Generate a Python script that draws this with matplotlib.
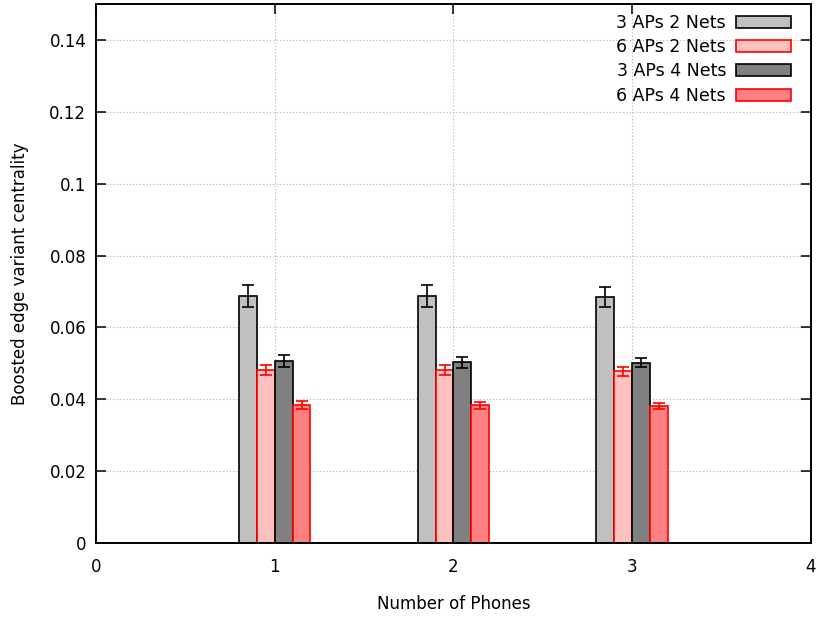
import matplotlib
matplotlib.use("Agg")
import matplotlib.pyplot as plt
import numpy as np

# Data
phones = [1, 2, 3]
series_labels = ["3 APs 2 Nets", "6 APs 2 Nets", "3 APs 4 Nets", "6 APs 4 Nets"]
ap3_net2 = [0.0688, 0.0688, 0.0685]
ap3_net2_err = [0.0030, 0.0030, 0.0027]
ap6_net2 = [0.0481, 0.0481, 0.0478]
ap6_net2_err = [0.0014, 0.0014, 0.0013]
ap3_net4 = [0.0506, 0.0503, 0.0502]
ap3_net4_err = [0.0017, 0.0015, 0.0013]
ap6_net4 = [0.0384, 0.0383, 0.0381]
ap6_net4_err = [0.0010, 0.0010, 0.0008]
y_ticks = [0, 0.02, 0.04, 0.06, 0.08, 0.1, 0.12, 0.14]
y_tick_labels = ["0", "0.02", "0.04", "0.06", "0.08", "0.1", "0.12", "0.14"]
x_ticks = [0, 1, 2, 3, 4]

values = [ap3_net2, ap6_net2, ap3_net4, ap6_net4]
errors = [ap3_net2_err, ap6_net2_err, ap3_net4_err, ap6_net4_err]
fills = ["#c0c0c0", "#ffc0c0", "#808080", "#ff8080"]
edges = ["black", "red", "black", "red"]

plt.rcParams["font.family"] = ["DejaVu Sans"]
plt.rcParams["font.size"] = 12

fig = plt.figure(figsize=(8.2, 6.19), dpi=100)
ax = fig.add_axes([96 / 820, 1 - 543 / 619, (811 - 96) / 820, (543 - 4) / 619])

width = 0.1
offsets = [-1.5 * width, -0.5 * width, 0.5 * width, 1.5 * width]
x = np.array(phones, dtype=float)
for vals, errs, fc, ec, lab, off in zip(values, errors, fills, edges, series_labels, offsets):
    ax.bar(x + off, vals, width=width, color=fc, edgecolor=ec, linewidth=1.2,
           label=lab, zorder=2)
    ax.errorbar(x + off, vals, yerr=errs, fmt="none", ecolor=ec, elinewidth=1.2,
                capsize=4, capthick=1.2, zorder=3)

ax.set_xlim(0, 4)
ax.set_ylim(0, 0.15)
ax.set_xticks(x_ticks)
ax.set_xticklabels([str(t) for t in x_ticks])
ax.set_yticks(y_ticks)
ax.set_yticklabels(y_tick_labels)

ax.grid(True, linestyle=(0, (1, 2)), color="#b0b0b0", linewidth=0.8)
ax.set_axisbelow(True)

ax.tick_params(direction="in", length=7, width=1.1, top=True, right=True,
               labelsize=12)
ax.tick_params(axis="y", pad=7)
ax.tick_params(axis="x", pad=11)
for sp in ax.spines.values():
    sp.set_linewidth(1.4)

ax.set_xlabel("Number of Phones", fontsize=12, ha="center", va="center")
ax.set_ylabel("Boosted edge variant centrality", fontsize=12, ha="center", va="center")
ax.xaxis.set_label_coords(0.5, (543 - 604) / 539)
ax.yaxis.set_label_coords((20 - 96) / 715, 0.5)

leg = ax.legend(loc="upper right", bbox_to_anchor=(0.982, 0.9944),
                frameon=False, markerfirst=False,
                fontsize=12.5, handlelength=3.2, handleheight=0.7,
                handletextpad=0.55, labelspacing=0.36, borderaxespad=0.0)
for t in leg.get_texts():
    t.set_ha("right")

fig.savefig("out.png", dpi=100)
